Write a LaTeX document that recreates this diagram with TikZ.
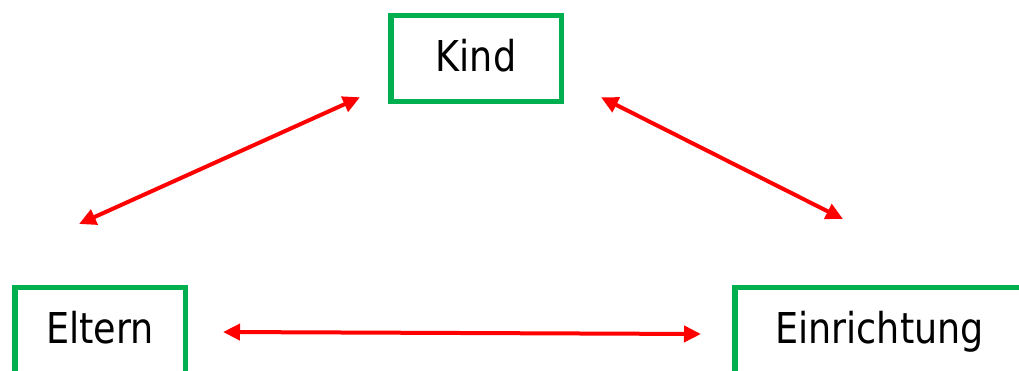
\documentclass[tikz,border=0pt]{standalone}
\usepackage{fontspec}
\newfontfamily\boxfont{DejaVu Sans}[FakeStretch=0.86]
\usepackage{tikz}
\usetikzlibrary{arrows.meta, positioning}
\usepackage{xcolor}
\definecolor{boxgreen}{HTML}{00B050}
\definecolor{linkred}{HTML}{FF0000}

\begin{document}
\begin{tikzpicture}[x=1pt, y=-1pt,
  party/.style={rectangle, draw=boxgreen, line width=5.5pt, minimum width=170.5pt,
    minimum height=86pt, inner sep=0pt, text height=31pt, text depth=6pt,
    font=\boxfont\fontsize{42.5}{50}\selectfont},
  link/.style={draw=linkred, line width=4pt,
    {Triangle[length=17pt, width=16pt]}-{Triangle[length=17pt, width=16pt]}}]
\useasboundingbox (0,0) rectangle (1019,370);
\clip (0,0) rectangle (1019,370);
\node[party] (kind) at (476,58.5) {Kind};
\node[party] (eltern) at (100,330.5) {Eltern};
\node[party, minimum width=289.5pt] (einrichtung) at (879.5,330.5) {Einrichtung};
\draw[link] ([xshift=-21pt, yshift=60.75pt]eltern.north) -- ([xshift=-28pt, yshift=7pt]kind.south west);
\draw[link] ([xshift=37pt, yshift=7pt]kind.south east) -- ([xshift=-36.5pt, yshift=65.75pt]einrichtung.north);
\draw[link] ([xshift=35pt, yshift=-1.5pt]eltern.east) -- ([xshift=-31pt, yshift=-3.5pt]einrichtung.west);
\end{tikzpicture}
\end{document}
